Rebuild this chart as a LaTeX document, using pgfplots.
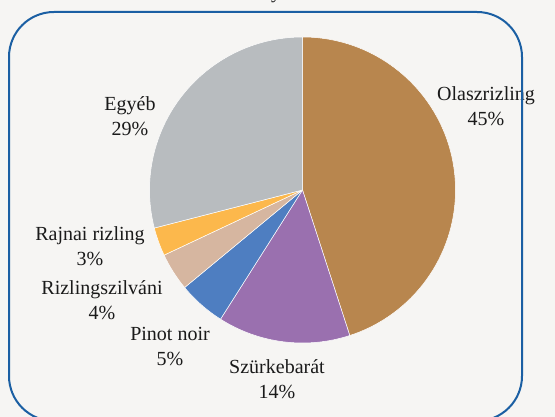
\documentclass[border=0pt]{standalone}
\usepackage{pgfplots}
\usepackage{pgfplotstable}
\pgfplotsset{compat=1.18}
\usepackage{fontspec}
\setmainfont{Liberation Serif}
\definecolor{bg}{HTML}{F6F5F3}
\definecolor{frame}{HTML}{1B5FA3}
\definecolor{c0}{HTML}{B8864E}
\definecolor{c1}{HTML}{9A70AF}
\definecolor{c2}{HTML}{4E7EC1}
\definecolor{c3}{HTML}{D6B6A0}
\definecolor{c4}{HTML}{FCB84C}
\definecolor{c5}{HTML}{B8BCBF}
\definecolor{txt}{HTML}{1A1A1A}
\pgfplotstableread[col sep=comma]{
name,value
Olaszrizling,45
Szürkebarát,14
Pinot noir,5
Rizlingszilváni,4
Rajnai rizling,3
Egyéb,29
}\piedata
\begin{document}
\begin{tikzpicture}[x=1pt,y=1pt]
\fill[bg] (0,0) rectangle (555,417);
\begin{axis}[at={(0,0)}, anchor=south west, scale only axis,
  width=555pt, height=417pt, xmin=0, xmax=555, ymin=0, ymax=417,
  hide axis, clip=false]
\def\startang{90}
\pgfplotsforeachungrouped \i in {0,...,5}{%
  \pgfplotstablegetelem{\i}{value}\of\piedata
  \pgfmathsetmacro{\endang}{\startang-\pgfplotsretval*3.6}%
  \edef\cmd{\noexpand\fill[c\i, draw=white, line width=0.5pt, line join=round]
    (axis cs:302.5,227) -- ++(\startang:153pt) arc[start angle=\startang, end angle=\endang, radius=153pt] -- cycle;}%
  \cmd
  \global\let\startang\endang
}
\addplot[draw=none] coordinates {(302.5,227)};
\begin{scope}[every node/.style={align=center, text=txt, font=\fontsize{20}{25}\selectfont}]
\node at (axis cs:486,311) {Olaszrizling\\45\%};
\node at (axis cs:130,301) {Egyéb\\29\%};
\node at (axis cs:90,171) {Rajnai rizling\\3\%};
\node at (axis cs:102,117) {Rizlingszilváni\\4\%};
\node at (axis cs:170,70) {Pinot noir\\5\%};
\node at (axis cs:277,38) {Szürkebarát\\14\%};
\node[anchor=base] at (axis cs:276,418) {y};
\end{scope}
\end{axis}
\draw[frame, line width=2pt, rounded corners=45pt] (9,-4) rectangle (522,405);
\pgfresetboundingbox
\useasboundingbox (0,0) rectangle (555,417);
\end{tikzpicture}
\end{document}
